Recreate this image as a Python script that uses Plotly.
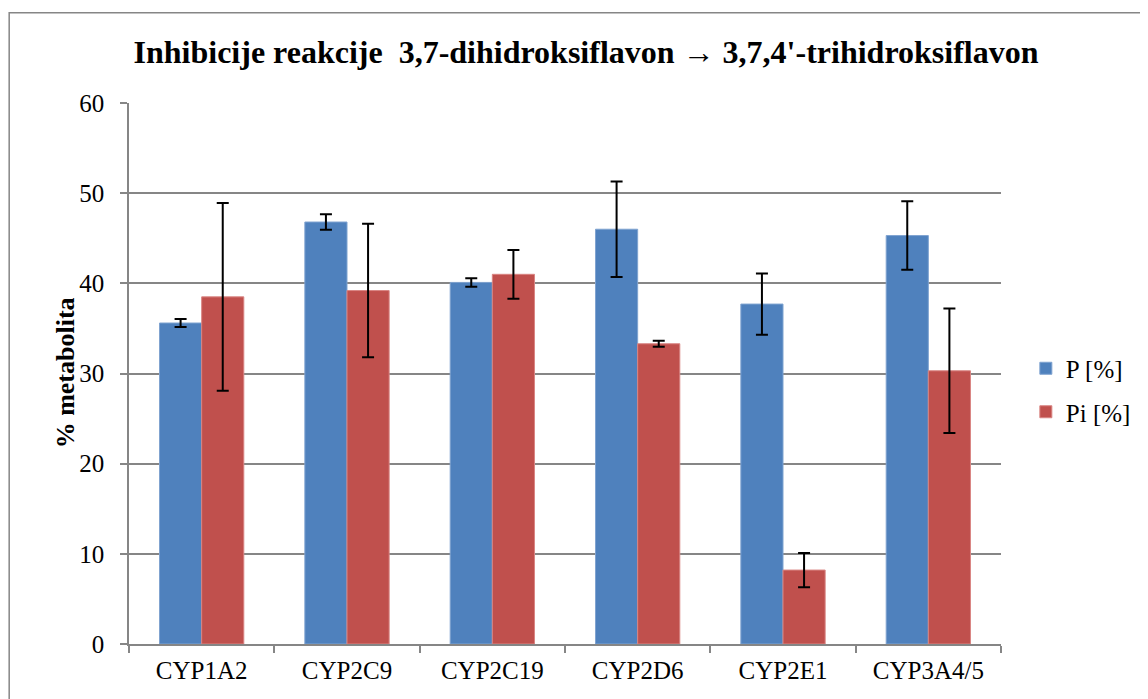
import plotly.graph_objects as go

categories = ["CYP1A2", "CYP2C9", "CYP2C19", "CYP2D6", "CYP2E1", "CYP3A4/5"]
p_values = [35.6, 46.8, 40.1, 46.0, 37.7, 45.3]
p_errors = [0.45, 0.85, 0.47, 5.3, 3.4, 3.8]
pi_values = [38.5, 39.2, 41.0, 33.3, 8.2, 30.3]
pi_errors = [10.4, 7.4, 2.7, 0.32, 1.9, 6.9]
y_ticks = [0, 10, 20, 30, 40, 50, 60]

OFF = 8  # default page margin of the html body
W, H = 1148 - OFF, 699 - OFF
L, R, T, B = 129 - OFF, 1006 - OFF, 103 - OFF, 644 - OFF
pw, ph = R - L, B - T

def px_x(x):
    return (x - OFF - L) / pw

def px_y(y):
    return (B - (y - OFF)) / ph

FONT = '"Liberation Serif", "Times New Roman", Times, "DejaVu Serif", serif'
GRID = "#868686"

fig = go.Figure()
fig.add_trace(go.Bar(
    name="P [%]", x=categories, y=p_values,
    marker=dict(color="#4F81BD", line=dict(color="#7FA3D0", width=1)),
    error_y=dict(type="data", array=p_errors, color="black", thickness=2, width=6),
    legendgroup="p",
))
fig.add_trace(go.Bar(
    name="Pi [%]", x=categories, y=pi_values,
    marker=dict(color="#C0504D", line=dict(color="#D98583", width=1)),
    error_y=dict(type="data", array=pi_errors, color="black", thickness=2, width=6),
    legendgroup="pi",
))

fig.update_layout(
    width=W, height=H,
    margin=dict(l=L, r=W - R, t=T, b=H - B),
    paper_bgcolor="white", plot_bgcolor="white",
    barmode="group", bargap=0.42, bargroupgap=0,
    font=dict(family=FONT, color="black", size=25),
    title=dict(
        text="<b>Inhibicije reakcije  3,7-dihidroksiflavon → 3,7,4'-trihidroksiflavon</b>",
        font=dict(family=FONT, size=32, color="black"),
        x=(586 - OFF) / W, xref="container", xanchor="center",
        y=1 - (52 - OFF) / H, yref="container", yanchor="middle",
    ),
    legend=dict(
        x=px_x(1031), xanchor="left",
        y=px_y(390), yanchor="middle",
        font=dict(family=FONT, size=25, color="black"),
        tracegroupgap=8,
        traceorder="grouped",
        bgcolor="rgba(0,0,0,0)",
    ),
    xaxis=dict(
        showline=True, linecolor=GRID, linewidth=1.5,
        ticks="outside", tickson="boundaries", ticklen=7, tickcolor=GRID, tickwidth=1.5,
        tickfont=dict(family=FONT, size=25, color="black"),
        ticklabelstandoff=3,
        showgrid=False,
    ),
    yaxis=dict(
        range=[0, 60], tickvals=y_ticks,
        showline=True, linecolor=GRID, linewidth=1.5,
        ticks="outside", ticklen=7, tickcolor=GRID, tickwidth=1.5,
        showgrid=True, gridcolor=GRID, gridwidth=1.5,
        zeroline=False,
        tickfont=dict(family=FONT, size=25, color="black"),
        ticklabelstandoff=11,
    ),
    annotations=[dict(
        text="<b>% metabolita</b>", textangle=-90,
        xref="paper", yref="paper", x=px_x(65), y=px_y(373),
        xanchor="center", yanchor="middle", showarrow=False,
        font=dict(family=FONT, size=26, color="black"),
    )],
    shapes=[dict(
        type="rect", xref="paper", yref="paper",
        x0=px_x(8.5), x1=px_x(1170), y0=px_y(720), y1=px_y(12.7),
        line=dict(color=GRID, width=1.5), fillcolor="rgba(0,0,0,0)", layer="below",
    )],
)

fig.write_html("out.html")
